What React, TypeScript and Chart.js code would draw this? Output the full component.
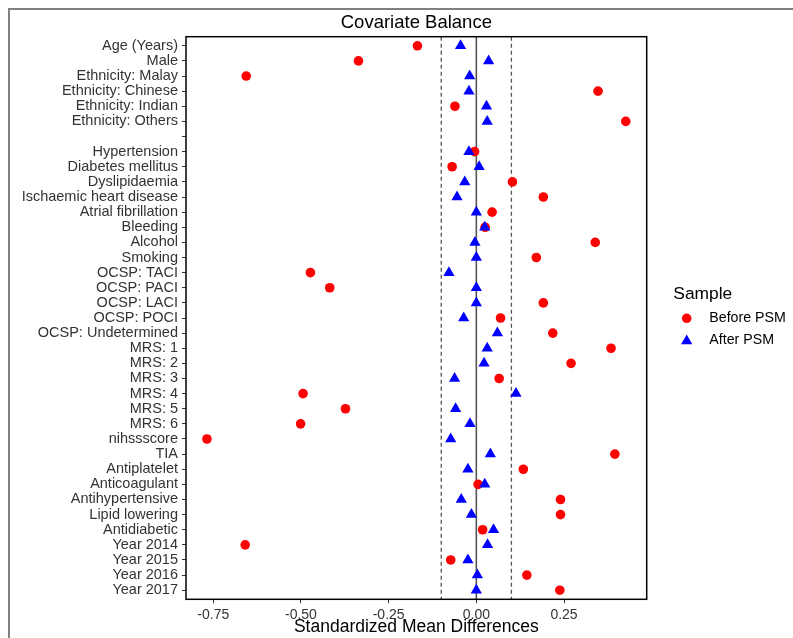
import { useEffect, useRef } from 'react';
import { Chart, registerables } from 'chart.js';

Chart.register(...registerables);

const COVARIATES = [
  'Age (Years)', 'Male', 'Ethnicity: Malay', 'Ethnicity: Chinese', 'Ethnicity: Indian', 'Ethnicity: Others', '',
  'Hypertension', 'Diabetes mellitus', 'Dyslipidaemia', 'Ischaemic heart disease', 'Atrial fibrillation', 'Bleeding',
  'Alcohol', 'Smoking', 'OCSP: TACI', 'OCSP: PACI', 'OCSP: LACI', 'OCSP: POCI', 'OCSP: Undetermined',
  'MRS: 1', 'MRS: 2', 'MRS: 3', 'MRS: 4', 'MRS: 5', 'MRS: 6', 'nihssscore', 'TIA', 'Antiplatelet',
  'Anticoagulant', 'Antihypertensive', 'Lipid lowering', 'Antidiabetic', 'Year 2014', 'Year 2015', 'Year 2016', 'Year 2017',
];

const BEFORE_PSM: (number | null)[] = [
  -0.168, -0.336, -0.656, 0.347, -0.061, 0.426, null,
  -0.005, -0.069, 0.103, 0.191, 0.045, 0.025,
  0.339, 0.171, -0.473, -0.418, 0.191, 0.069, 0.218,
  0.384, 0.27, 0.065, -0.494, -0.373, -0.501, -0.768, 0.395, 0.134,
  0.005, 0.24, 0.24, 0.018, -0.659, -0.073, 0.144, 0.238,
];

const AFTER_PSM: (number | null)[] = [
  -0.045, 0.035, -0.019, -0.021, 0.029, 0.031, null,
  -0.021, 0.008, -0.033, -0.055, 0.0, 0.024,
  -0.004, 0.0, -0.078, 0.0, 0.0, -0.036, 0.06,
  0.031, 0.022, -0.062, 0.113, -0.059, -0.018, -0.073, 0.04, -0.024,
  0.024, -0.043, -0.014, 0.049, 0.032, -0.024, 0.003, 0.0,
];

const X_TICKS = [-0.75, -0.5, -0.25, 0, 0.25];
const DASHED_LINES = [-0.1, 0.1];
const SOLID_LINE = 0;

const SERIES_NAMES = ['Before PSM', 'After PSM'];
const LEGEND_TITLE = 'Sample';
const CHART_TITLE = 'Covariate Balance';
const X_TITLE = 'Standardized Mean Differences';

const FONT = '"Liberation Sans", Arial, sans-serif';

const toPoints = (vals: (number | null)[]) =>
  vals.map((v, i) => (v === null ? null : { x: v, y: i })).filter((p) => p !== null) as { x: number; y: number }[];

export default function App() {
  const ref = useRef<HTMLCanvasElement | null>(null);

  useEffect(() => {
    if (!ref.current) return;
    const all = [...BEFORE_PSM, ...AFTER_PSM].filter((v) => v !== null) as number[];
    const dmin = Math.min(...all);
    const dmax = Math.max(...all);
    const span = dmax - dmin;
    const xMin = dmin - 0.05 * span;
    const xMax = dmax + 0.05 * span;

    const decor = {
      id: 'decor',
      beforeDatasetsDraw(chart: any) {
        const { ctx, chartArea, scales } = chart;
        const x = scales.x;
        ctx.save();
        ctx.strokeStyle = '#555';
        ctx.lineWidth = 1.3;
        ctx.setLineDash([4, 3]);
        DASHED_LINES.forEach((v) => {
          const px = x.getPixelForValue(v);
          ctx.beginPath();
          ctx.moveTo(px, chartArea.top);
          ctx.lineTo(px, chartArea.bottom);
          ctx.stroke();
        });
        ctx.setLineDash([]);
        ctx.strokeStyle = '#555';
        ctx.lineWidth = 1.6;
        const p0 = x.getPixelForValue(SOLID_LINE);
        ctx.beginPath();
        ctx.moveTo(p0, chartArea.top);
        ctx.lineTo(p0, chartArea.bottom);
        ctx.stroke();
        ctx.restore();
      },
      afterDraw(chart: any) {
        const { ctx, chartArea } = chart;
        ctx.save();
        // outer frame (top & left)
        ctx.strokeStyle = '#808080';
        ctx.lineWidth = 2;
        ctx.beginPath();
        ctx.moveTo(1, chart.height);
        ctx.lineTo(1, 1);
        ctx.lineTo(chart.width, 1);
        ctx.stroke();
        // panel border
        ctx.strokeStyle = '#000';
        ctx.lineWidth = 1.5;
        ctx.strokeRect(chartArea.left, chartArea.top, chartArea.right - chartArea.left, chartArea.bottom - chartArea.top);
        const cx = (chartArea.left + chartArea.right) / 2;
        // title
        ctx.fillStyle = '#000';
        ctx.textAlign = 'center';
        ctx.textBaseline = 'middle';
        ctx.font = `18.5px ${FONT}`;
        ctx.fillText(CHART_TITLE, cx, 14.7);
        // x title
        ctx.font = `17.5px ${FONT}`;
        ctx.fillText(X_TITLE, cx, 619);
        // legend
        ctx.textAlign = 'left';
        ctx.font = `17.4px ${FONT}`;
        ctx.fillText(LEGEND_TITLE, 665.3, 286.3);
        ctx.font = `14.2px ${FONT}`;
        ctx.fillText(SERIES_NAMES[0], 701.3, 310.3);
        ctx.fillText(SERIES_NAMES[1], 701.3, 332.3);
        ctx.fillStyle = '#FF0000';
        ctx.beginPath();
        ctx.arc(678.7, 310.3, 4.8, 0, Math.PI * 2);
        ctx.fill();
        ctx.fillStyle = '#0000FF';
        const r = 6.5;
        const ty = 333;
        ctx.beginPath();
        ctx.moveTo(678.7, ty - r);
        ctx.lineTo(678.7 + r * Math.sin((2 * Math.PI) / 3), ty + r / 2);
        ctx.lineTo(678.7 - r * Math.sin((2 * Math.PI) / 3), ty + r / 2);
        ctx.closePath();
        ctx.fill();
        ctx.restore();
      },
    };

    const chart = new Chart(ref.current, {
      type: 'scatter',
      data: {
        datasets: [
          {
            label: SERIES_NAMES[0],
            data: toPoints(BEFORE_PSM),
            pointStyle: 'circle',
            pointRadius: 4.8,
            pointBorderWidth: 0,
            backgroundColor: '#FF0000',
            borderColor: '#FF0000',
            order: 2,
          },
          {
            label: SERIES_NAMES[1],
            data: toPoints(AFTER_PSM),
            pointStyle: 'triangle',
            pointRadius: 6.5,
            pointBorderWidth: 0,
            backgroundColor: '#0000FF',
            borderColor: '#0000FF',
            order: 1,
          },
        ],
      },
      plugins: [decor],
      options: {
        animation: false,
        responsive: false,
        devicePixelRatio: 1,
        events: [],
        layout: { padding: { top: 28.7, right: 146.3, bottom: 0, left: 0 } },
        plugins: {
          legend: { display: false },
          title: { display: false },
          tooltip: { enabled: false },
        },
        scales: {
          x: {
            type: 'linear',
            min: xMin,
            max: xMax,
            afterBuildTicks: (s: any) => {
              s.ticks = X_TICKS.map((v) => ({ value: v }));
            },
            afterFit: (s: any) => {
              s.height = 38.7;
            },
            grid: { drawOnChartArea: false, drawTicks: true, tickLength: 4, color: '#333', lineWidth: 1 },
            border: { display: false },
            ticks: {
              padding: 3,
              color: '#333',
              font: { family: FONT, size: 14 },
              callback: (v: any) => Number(v).toFixed(2),
              maxRotation: 0,
              autoSkip: false,
            },
          },
          y: {
            type: 'linear',
            reverse: true,
            min: -0.6,
            max: COVARIATES.length - 1 + 0.6,
            afterBuildTicks: (s: any) => {
              s.ticks = COVARIATES.map((_, i) => ({ value: i }));
            },
            afterFit: (s: any) => {
              s.width = 178;
            },
            grid: { drawOnChartArea: false, drawTicks: true, tickLength: 4, color: '#333', lineWidth: 1 },
            border: { display: false },
            ticks: {
              padding: 4,
              color: '#333',
              font: { family: FONT, size: 14.5 },
              autoSkip: false,
              callback: (v: any) => COVARIATES[Math.round(Number(v))] ?? '',
            },
          },
        },
      },
    } as any);

    return () => chart.destroy();
  }, []);

  return (
    <div style={{ position: 'fixed', left: 8, top: 8, width: 785, height: 630, overflow: 'hidden' }}>
      <canvas ref={ref} width={785} height={630} style={{ display: 'block', width: 785, height: 630 }} />
    </div>
  );
}
